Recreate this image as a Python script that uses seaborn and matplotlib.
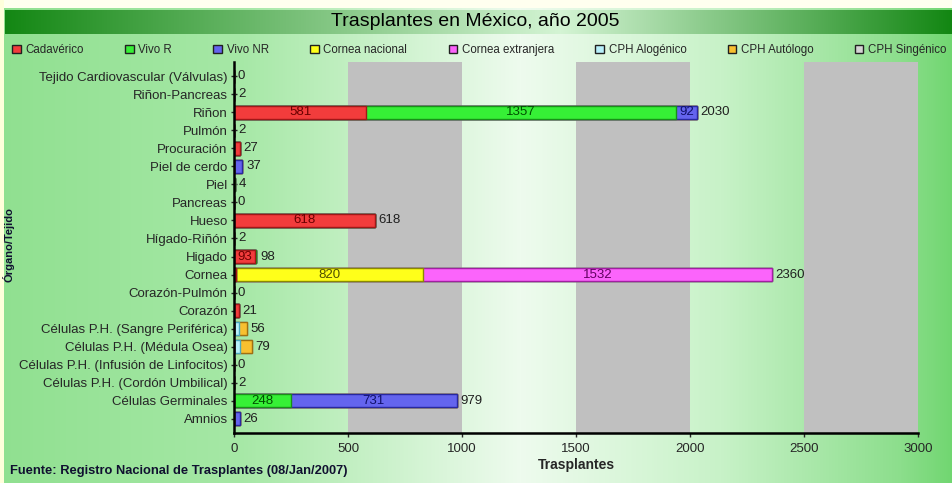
import numpy as np
import pandas as pd
import matplotlib
matplotlib.use("Agg")
import matplotlib.pyplot as plt
import seaborn as sns
from matplotlib.patches import Patch

categories = [
    "Tejido Cardiovascular (Válvulas)", "Riñon-Pancreas", "Riñon", "Pulmón",
    "Procuración", "Piel de cerdo", "Piel", "Pancreas", "Hueso", "Hígado-Riñón",
    "Higado", "Cornea", "Corazón-Pulmón", "Corazón",
    "Células P.H. (Sangre Periférica)", "Células P.H. (Médula Osea)",
    "Células P.H. (Infusión de Linfocitos)", "Células P.H. (Cordón Umbilical)",
    "Células Germinales", "Amnios",
]
series_names = ["Cadavérico", "Vivo R", "Vivo NR", "Cornea nacional",
                "Cornea extranjera", "CPH Alogénico", "CPH Autólogo", "CPH Singénico"]
cadaverico  = [0, 2, 581, 2, 27, 0, 0, 0, 618, 2, 93, 8, 0, 21, 0, 0, 0, 0, 0, 0]
vivo_r      = [0, 0, 1357, 0, 0, 0, 4, 0, 0, 0, 5, 0, 0, 0, 0, 0, 0, 0, 248, 0]
vivo_nr     = [0, 0, 92, 0, 0, 37, 0, 0, 0, 0, 0, 0, 0, 0, 0, 0, 0, 0, 731, 26]
cornea_nac  = [0, 0, 0, 0, 0, 0, 0, 0, 0, 0, 0, 820, 0, 0, 0, 0, 0, 0, 0, 0]
cornea_ext  = [0, 0, 0, 0, 0, 0, 0, 0, 0, 0, 0, 1532, 0, 0, 0, 0, 0, 0, 0, 0]
cph_alo     = [0, 0, 0, 0, 0, 0, 0, 0, 0, 0, 0, 0, 0, 0, 20, 28, 0, 2, 0, 0]
cph_auto    = [0, 0, 0, 0, 0, 0, 0, 0, 0, 0, 0, 0, 0, 0, 36, 51, 0, 0, 0, 0]
cph_sin     = [0] * 20
x_ticks = [0, 500, 1000, 1500, 2000, 2500, 3000]

series = [cadaverico, vivo_r, vivo_nr, cornea_nac, cornea_ext, cph_alo, cph_auto, cph_sin]
fills = ["#f23c3c", "#36f036", "#6464ee", "#ffff1a", "#fb64fb", "#b8f0fa", "#f8c030", "#d4d4d4"]
edges = ["#a01818", "#189018", "#2828a0", "#8a8a00", "#a020a0", "#4aa8c0", "#a07010", "#808080"]
label_colors = ["#6a0000", "#005000", "#10106a", "#505000", "#600060", "#205060", "#604000", "#404040"]

sns.set_style("ticks")
plt.rcParams["font.family"] = ["Liberation Sans", "DejaVu Sans"]

W, H = 953, 483
fig = plt.figure(figsize=(W / 100, H / 100), dpi=100)

# ---- background gradients ----
bg = fig.add_axes([0, 0, 1, 1], zorder=-10)
bg.set_axis_off()
xs = np.arange(W)
stops_x = [0, 240, 520, 720, 900, 953]
r = np.interp(xs, stops_x, [0x90, 0xa6, 0xee, 0xc8, 0x8c, 0x70])
g = np.interp(xs, stops_x, [0xe0, 0xe8, 0xfb, 0xf2, 0xde, 0xd6])
b = np.interp(xs, stops_x, [0x90, 0xa6, 0xee, 0xc8, 0x8c, 0x70])
img = np.zeros((H, W, 3))
img[:, :, 0] = r / 255
img[:, :, 1] = g / 255
img[:, :, 2] = b / 255
tstops = [0, 560, 953]
tr = np.interp(xs, tstops, [0x12, 0xd4, 0x12]) / 255
tg = np.interp(xs, tstops, [0x86, 0xf4, 0x86]) / 255
tb = np.interp(xs, tstops, [0x12, 0xd4, 0x12]) / 255
img[10:34, 5:, 0] = tr[5:]
img[10:34, 5:, 1] = tg[5:]
img[10:34, 5:, 2] = tb[5:]
img[:8, :, :] = np.array([1.0, 1.0, 0.94])
img[:, :4, :] = np.array([1.0, 1.0, 0.86])
bg.imshow(img, aspect="auto", extent=[0, 1, 0, 1], origin="upper")
bg.set_xlim(0, 1)
bg.set_ylim(0, 1)

# ---- main axes ----
ax = fig.add_axes([234 / W, 1 - 433 / H, (918 - 234) / W, (433 - 62) / H])
ax.patch.set_alpha(0)
for lo in (500, 1500, 2500):
    ax.axvspan(lo, lo + 500, color="#c0c0c0", zorder=0, lw=0)

cums = np.cumsum(np.array(series), axis=0)
for i in range(len(series) - 1, -1, -1):
    df = pd.DataFrame({"cat": categories, "val": cums[i]})
    sns.barplot(data=df, x="val", y="cat", orient="h", color=fills[i],
                edgecolor=edges[i], linewidth=1.0, width=0.75, saturation=1,
                ax=ax, zorder=3)

starts = np.vstack([np.zeros(len(categories)), cums[:-1]])
for i, vals in enumerate(series):
    for j, v in enumerate(vals):
        if v >= 85:
            ax.text(starts[i][j] + v / 2, j, str(v), ha="center", va="center",
                    fontsize=9.5, color=label_colors[i], zorder=5)
totals = cums[-1]
for j, t in enumerate(totals):
    ax.text(t + 16, j, str(int(t)), ha="left", va="center", fontsize=9.5,
            color="#202020", zorder=5)

ax.set_xlim(0, 3000)
ax.set_ylim(19.8, -0.8)
ax.set_xticks(x_ticks)
ax.set_xticklabels([str(t) for t in x_ticks], fontsize=9.5)
ax.tick_params(axis="y", labelsize=9.5, length=5, direction="inout", width=1, pad=2)
ax.tick_params(axis="x", length=3, width=1, pad=4)
ax.set_ylabel("")
ax.set_xlabel("Trasplantes", fontsize=10, fontweight="bold", labelpad=2)
for s in ("top", "right"):
    ax.spines[s].set_visible(False)
for s in ("left", "bottom"):
    ax.spines[s].set_linewidth(1.8)
    ax.spines[s].set_color("black")
    ax.spines[s].set_zorder(6)

# ---- texts ----
fig.text(475 / W, 1 - 21.5 / H, "Trasplantes en México, año 2005", ha="center", va="center",
         fontsize=14, color="black")
handles = [Patch(facecolor=f, edgecolor="#202020", linewidth=1) for f in fills]
fig.legend(handles, series_names, loc="center", ncol=8, mode="expand",
           bbox_to_anchor=(0.008, 1 - 57 / H, 0.99, 14 / H), frameon=False,
           fontsize=8.3, handlelength=0.75, handleheight=0.75, handletextpad=0.4,
           borderaxespad=0, columnspacing=1.0)
fig.text(10 / W, 1 - 471 / H, "Fuente: Registro Nacional de Trasplantes (08/Jan/2007)",
         ha="left", va="center", fontsize=9.3, fontweight="bold", color="#101030")
fig.text(9 / W, 1 - 245 / H, "Órgano/Tejido", rotation=90, ha="center", va="center",
         fontsize=8, fontweight="bold", color="#101030")

fig.savefig("out.png", dpi=100)
